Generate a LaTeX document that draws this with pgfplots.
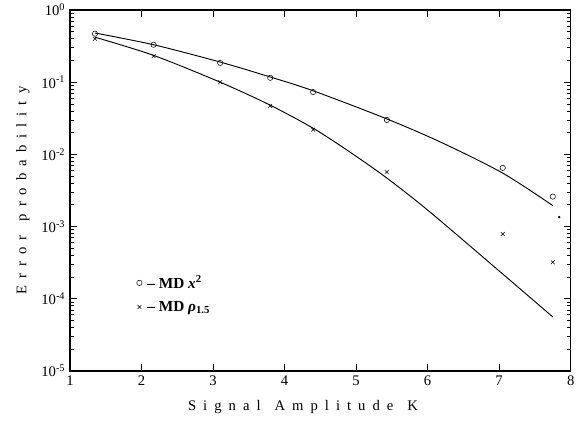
\documentclass[border=0pt]{standalone}
\usepackage{pgfplots}
\pgfplotsset{compat=1.18}
\usepackage{fontspec}
\setmainfont{Liberation Serif}
\newfontfamily\spaced[LetterSpace=48, WordSpace=1.3]{Liberation Serif}

% marker data
\pgfplotstableread{
x     y
1.35  0.47
2.17  0.33
3.10  0.185
3.80  0.115
4.40  0.073
5.43  0.030
7.05  0.0065
7.75  0.0026
}\circdata
\pgfplotstableread{
x     y
1.35  0.40
2.17  0.23
3.10  0.10
3.80  0.047
4.40  0.022
5.43  0.0057
7.05  0.00079
7.75  0.00032
}\crossdata

\begin{document}
\begin{tikzpicture}
\begin{axis}[
    name=ax,
    scale only axis,
    width=376pt, height=271pt,
    xmin=1, xmax=8,
    ymode=log, ymin=1e-5, ymax=1,
    xtick={1,2,...,8},
    ytick={1e-5,1e-4,1e-3,1e-2,1e-1,1},
    yticklabels={10\textsuperscript{-5},10\textsuperscript{-4},10\textsuperscript{-3},10\textsuperscript{-2},10\textsuperscript{-1},10\textsuperscript{0}},
    /pgf/number format/assume math mode=true,
    tick align=inside,
    major tick length=5pt, minor tick length=3pt,
    axis line style={line width=1pt},
    every tick/.style={black, line width=0.6pt},
    tick label style={font=\fontsize{11}{12}\selectfont},
    xlabel={\spaced Signal Amplitude K},
    ylabel={\spaced Error probability},
    label style={font=\fontsize{11}{12}\selectfont},
    xlabel style={yshift=-4pt, xshift=-13pt},
    ylabel style={yshift=2pt},
    legend style={at={(0.125,0.28)}, anchor=north west, draw=none, fill=none,
        font=\bfseries\fontsize{11.5}{12}\selectfont, row sep=4pt},
    legend cell align=left,
    legend image code/.code={\draw[#1] (0.15cm,0cm) -- plot coordinates {(0.15cm,0cm)};},
]
\addplot[black, line width=0.7pt, smooth, forget plot] coordinates {
(1.35,0.48) (2.17,0.33) (3.1,0.19) (3.8,0.118) (4.4,0.076) (5.43,0.031)
(6.2,0.0145) (7.05,0.0055) (7.75,0.00195)};
\addplot[black, line width=0.7pt, smooth, forget plot] coordinates {
(1.35,0.42) (2.17,0.235) (3.1,0.10) (3.8,0.048) (4.4,0.023) (4.9,0.011) (5.43,0.0047)
(6.03,0.0016) (7.05,0.00022) (7.75,0.000056)};
\addplot[only marks, mark=o, mark size=2pt, black] table {\circdata};
\addlegendentry{\,-- MD \textit{x}\textsuperscript{2}}
\addplot[only marks, mark=x, mark size=2pt, black] table {\crossdata};
\addlegendentry{\,-- MD \textit{ρ}\textsubscript{1.5}}
\addplot[only marks, mark=*, mark size=0.7pt, black, forget plot] coordinates {(7.84,0.00135)};
\end{axis}
\pgfresetboundingbox
\path ([xshift=-52.5pt,yshift=-39pt]ax.south west) rectangle ([xshift=4pt,yshift=7.5pt]ax.north east);
\end{tikzpicture}
\end{document}
